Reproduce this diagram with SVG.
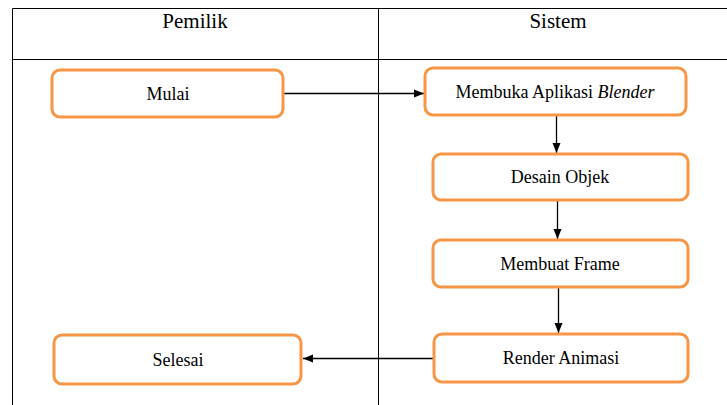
<svg xmlns="http://www.w3.org/2000/svg" width="727" height="405" viewBox="0 0 727 405">
<style>
.lane{stroke:#000;stroke-width:1;fill:none}
.box{fill:#fff;stroke:#F79646;stroke-width:3}
.t{font-family:'Liberation Serif','DejaVu Serif',serif;font-size:18px;fill:#000;text-anchor:middle}
.h{font-family:'Liberation Serif','DejaVu Serif',serif;font-size:21px;fill:#000;text-anchor:middle}
.c{stroke:#000;stroke-width:1.3;fill:none;marker-end:url(#ah)}
</style>
<defs>
<marker id="ah" viewBox="0 0 10 10" refX="10" refY="5" markerWidth="10" markerHeight="10" markerUnits="userSpaceOnUse" orient="auto">
<path d="M0,1 L10,5 L0,9 Z" fill="#000"/>
</marker>
</defs>
<g id="lanes">
<path class="lane" d="M12.5,8.5 H727 M12.5,59.5 H727 M12.5,8.5 V405 M378.5,8.5 V405"/>
<text class="h" x="195" y="28">Pemilik</text>
<text class="h" x="558" y="28">Sistem</text>
</g>
<g id="connectors">
<path class="c" d="M284,93.5 H424"/>
<path class="c" d="M556.5,116 V153"/>
<path class="c" d="M557.5,201 V239"/>
<path class="c" d="M558.5,288 V333"/>
<path class="c" d="M433,358.5 H303"/>
</g>
<g id="mulai"><rect class="box" x="52" y="70" width="231" height="47" rx="8"/><text class="t" x="168" y="100">Mulai</text></g>
<g id="membuka"><rect class="box" x="425" y="68" width="261" height="47" rx="8"/><text class="t" x="555" y="98">Membuka Aplikasi <tspan font-style="italic">Blender</tspan></text></g>
<g id="desain"><rect class="box" x="433" y="154" width="255" height="46" rx="8"/><text class="t" x="560" y="183">Desain Objek</text></g>
<g id="frame"><rect class="box" x="433" y="240" width="255" height="47" rx="8"/><text class="t" x="560" y="270">Membuat Frame</text></g>
<g id="render"><rect class="box" x="434" y="334" width="254" height="48" rx="8"/><text class="t" x="561" y="364">Render Animasi</text></g>
<g id="selesai"><rect class="box" x="54" y="335" width="247" height="49" rx="8"/><text class="t" x="178" y="366">Selesai</text></g>
</svg>
